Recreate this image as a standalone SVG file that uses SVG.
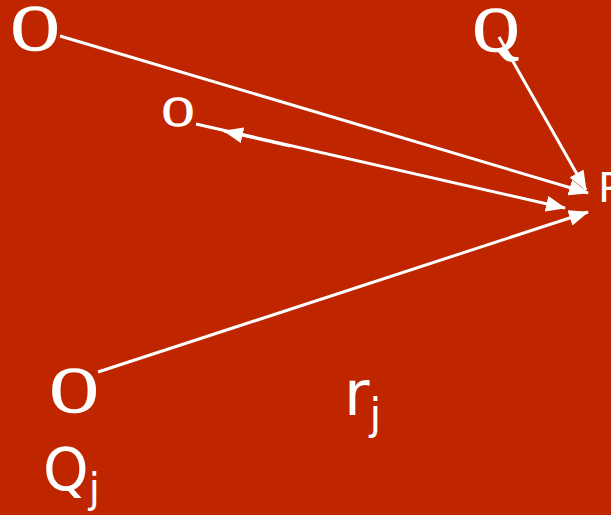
<svg xmlns="http://www.w3.org/2000/svg" width="611" height="515" viewBox="0 0 611 515">
<defs>
<style>
.bg{fill:#BF2600}
.ln{stroke:#fff;stroke-width:3;fill:none}
.t{fill:#fff;font-family:"DejaVu Sans",Verdana,sans-serif}
.q{fill:#fff;stroke:#fff;stroke-width:1.6;font-family:"Liberation Serif","Times New Roman",serif;text-anchor:middle}
</style>
<marker id="ah" markerUnits="userSpaceOnUse" markerWidth="20" markerHeight="16" viewBox="0 0 20 16" refX="19" refY="8" orient="auto">
<path d="M0,0 L20,8 L0,16 Z" fill="#fff"/>
</marker>
</defs>
<rect class="bg" x="0" y="0" width="611" height="515"/>
<g id="connectors">
<line class="ln" x1="60" y1="36" x2="588" y2="193" marker-end="url(#ah)"/>
<line class="ln" x1="499" y1="37" x2="586" y2="190" marker-end="url(#ah)"/>
<line class="ln" x1="196" y1="124" x2="565" y2="208" marker-end="url(#ah)"/>
<line class="ln" x1="290" y1="146" x2="224" y2="131" marker-end="url(#ah)"/>
<line class="ln" x1="98" y1="372" x2="588" y2="212" marker-end="url(#ah)"/>
</g>
<g id="node-a"><text class="q" x="35" y="50" font-size="66">O</text></g>
<g id="node-b"><text class="q" x="496" y="51" font-size="63">Q</text></g>
<g id="node-c"><text class="q" x="178" y="126" font-size="43">O</text></g>
<g id="node-qj"><text class="q" x="74" y="412" font-size="66">O</text></g>
<g id="label-p"><text class="t" x="598" y="202" font-size="41">P</text></g>
<g id="label-qj"><text class="t" x="43" y="490" font-size="58">Q<tspan font-size="40" dy="12">j</tspan></text></g>
<g id="label-rj"><text class="t" x="344" y="415" font-size="62">r<tspan font-size="42" dy="14">j</tspan></text></g>
</svg>
